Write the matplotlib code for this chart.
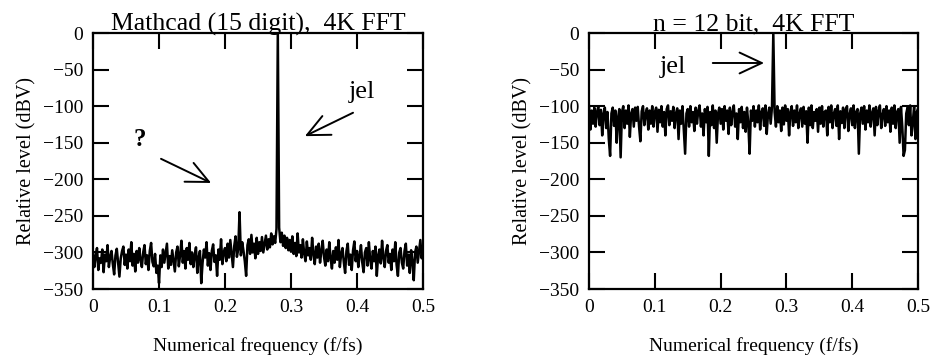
import numpy as np
import matplotlib
matplotlib.use("Agg")
import matplotlib.pyplot as plt

# ---------------- data ----------------
n_bins = 251                       # frequency bins shown, 0 ... 0.5
freq = np.linspace(0.0, 0.5, n_bins)

left_title = "Mathcad (15 digit),  4K FFT"
right_title = "n = 12 bit,  4K FFT"

left_level = [
    -300, -320, -305, -294, -324, -308, -314, -296, -327, -303, -312, -290, -320, -306, -298, -316, -330, -304, -295, -314, -333, -308, -298, -292, -317,
    -303, -322, -296, -312, -286, -318, -302, -326, -298, -314, -294, -310, -320, -300, -290, -316, -304, -324, -298, -287, -313, -319, -302, -328, -318,
    -342, -304, -320, -296, -314, -301, -288, -322, -305, -317, -297, -312, -326, -300, -292, -319, -303, -284, -314, -298, -322, -294, -310, -287, -316,
    -300, -320, -304, -293, -328, -307, -298, -342, -314, -296, -307, -286, -318, -301, -324, -298, -289, -313, -304, -332, -296, -310, -282, -316, -300,
    -294, -312, -288, -307, -283, -302, -320, -291, -278, -306, -296, -245, -304, -286, -298, -312, -332, -290, -282, -302, -276, -300, -288, -308, -280,
    -302, -286, -298, -279, -300, -288, -277, -296, -282, -293, -274, -289, -278, -287, -268, 0, -266, -286, -273, -291, -277, -294, -280, -297, -283,
    -299, -278, -302, -287, -305, -274, -300, -290, -307, -282, -302, -312, -285, -304, -294, -310, -280, -302, -316, -292, -307, -288, -314, -298, -284,
    -306, -318, -296, -312, -286, -308, -322, -298, -314, -293, -310, -283, -320, -302, -294, -313, -328, -298, -288, -317, -303, -324, -297, -285, -312,
    -298, -320, -304, -290, -314, -327, -300, -294, -318, -286, -310, -322, -298, -312, -292, -332, -304, -296, -315, -284, -307, -320, -298, -290, -314,
    -302, -324, -296, -312, -286, -317, -332, -300, -294, -314, -322, -298, -288, -318, -303, -328, -297, -312, -338, -300, -292, -314, -298, -283, -308,
    -294,
]

right_level = [
    -100, -132, -106, -124, -102, -128, -108, -101, -126, -105, -140, -110, -102, -130, -108, -145, -168, -110, -102, -127, -106, -150, -116, -104, -170,
    -108, -100, -130, -106, -124, -99, -142, -110, -104, -128, -102, -120, -101, -128, -148, -107, -100, -126, -111, -103, -132, -106, -124, -100, -128,
    -108, -102, -135, -105, -122, -100, -128, -108, -140, -104, -99, -126, -107, -120, -101, -130, -110, -103, -145, -106, -124, -100, -132, -165, -110,
    -104, -128, -100, -122, -108, -134, -102, -124, -106, -99, -128, -110, -140, -104, -122, -101, -168, -108, -126, -99, -130, -106, -150, -110, -102,
    -124, -104, -132, -100, -120, -106, -138, -102, -126, -108, -99, -128, -110, -145, -104, -122, -101, -130, -108, -135, -102, -124, -165, -106, -120,
    -100, -128, -106, -122, -99, -132, -108, -103, -127, -99, -138, -110, -102, -124, -101, 0, -108, -128, -100, -122, -106, -134, -102, -125, -99,
    -120, -104, -140, -108, -100, -127, -106, -122, -99, -130, -110, -103, -128, -101, -124, -107, -150, -102, -126, -99, -130, -108, -120, -104, -135,
    -102, -124, -100, -128, -108, -106, -140, -101, -122, -99, -130, -110, -104, -127, -99, -145, -107, -123, -102, -130, -105, -100, -134, -111, -103,
    -126, -99, -130, -108, -104, -165, -110, -102, -124, -100, -132, -106, -122, -99, -128, -109, -103, -140, -101, -126, -107, -99, -130, -112, -104,
    -127, -100, -122, -106, -135, -102, -124, -99, -130, -108, -104, -150, -101, -128, -168, -160, -110, -102, -126, -99, -140, -122, -100, -145, -108,
    -103,
]

x_ticks = [0, 0.1, 0.2, 0.3, 0.4, 0.5]
x_tick_labels = ["0", "0.1", "0.2", "0.3", "0.4", "0.5"]
y_ticks = [0, -50, -100, -150, -200, -250, -300, -350]
y_tick_labels = ["0", "\u221250", "\u2212100", "\u2212150", "\u2212200", "\u2212250", "\u2212300", "\u2212350"]

# ---------------- style ----------------
plt.rcParams["font.family"] = ["Liberation Serif", "DejaVu Serif"]

fig = plt.figure(figsize=(9.35, 3.58), dpi=100)
ax_l = fig.add_axes([0.0995, 0.1927, 0.3529, 0.7151])
ax_r = fig.add_axes([0.6300, 0.1927, 0.3519, 0.7151])


def style(ax, title):
    ax.set_xlim(0, 0.5)
    ax.set_ylim(-350, 0)
    ax.set_xticks(x_ticks)
    ax.set_xticklabels(x_tick_labels)
    ax.set_yticks(y_ticks)
    ax.set_yticklabels(y_tick_labels)
    ax.tick_params(direction="in", length=11.5, width=1.5, top=True, right=True,
                   labelsize=14, pad=7)
    for s in ax.spines.values():
        s.set_linewidth(1.6)
    ax.set_title(title, fontsize=18.5, pad=2)
    ax.set_xlabel("Numerical frequency (f/fs)", fontsize=14, labelpad=15)
    ax.set_ylabel("Relative level (dBV)", fontsize=14.5, labelpad=5)


ax_l.plot(freq, left_level, color="black", lw=1.8)
ax_r.plot(freq, right_level, color="black", lw=1.8)
style(ax_l, left_title)
style(ax_r, right_title)

arrow = dict(arrowstyle="->,head_length=1.6,head_width=0.75", color="black", lw=1.4,
             shrinkA=0, shrinkB=0)

# left panel annotations
ax_l.text(0.071, -146, "?", fontsize=18, fontweight="bold", ha="center", va="center")
ax_l.annotate("", xy=(0.179, -205), xytext=(0.103, -172), arrowprops=arrow)
ax_l.text(0.408, -80, "jel", fontsize=19, ha="center", va="center")
ax_l.annotate("", xy=(0.321, -141), xytext=(0.394, -109), arrowprops=arrow)

# right panel annotations
ax_r.text(0.127, -47, "jel", fontsize=19, ha="center", va="center")
ax_r.annotate("", xy=(0.266, -41), xytext=(0.188, -41), arrowprops=arrow)

fig.savefig("out.png", dpi=100)
